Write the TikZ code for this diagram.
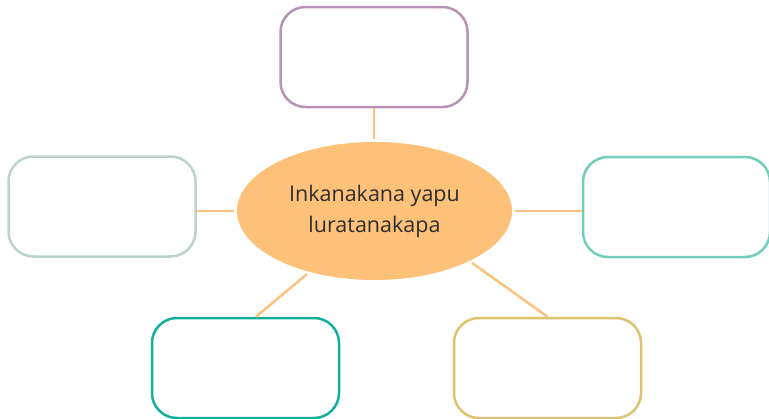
\documentclass[tikz,border=0pt]{standalone}
\usepackage{fontspec}
\setmainfont{Open Sans}
\usetikzlibrary{shapes.geometric}
\definecolor{hubfill}{HTML}{FDC17A}
\definecolor{linkcol}{HTML}{FDC27E}
\definecolor{textcol}{HTML}{2E2E2E}
\definecolor{purplebox}{HTML}{B794B4}
\definecolor{sagebox}{HTML}{BCD3C8}
\definecolor{mintbox}{HTML}{72CDBA}
\definecolor{tealbox}{HTML}{14AE9C}
\definecolor{goldbox}{HTML}{DDC36E}

\begin{document}
\begin{tikzpicture}[x=1pt, y=-1pt,
  card/.style={draw, line width=2.5pt, rounded corners=25pt, minimum width=187pt, minimum height=100pt, inner sep=0pt},
  link/.style={draw=linkcol, line width=2.5pt}]
  \useasboundingbox (0,0) rectangle (769,418);
  % centre of the web
  \node[ellipse, fill=hubfill, minimum width=275pt, minimum height=138pt, inner sep=0pt, outer sep=3pt,
        text=textcol, align=center, font=\fontsize{21.5}{31}\selectfont] (hub) at (374.5,211)
        {Inkanakana yapu\\luratanakapa};
  % empty boxes round it
  \node[card, draw=purplebox] (topbox) at (374,57) {};
  \node[card, draw=sagebox] (leftbox) at (102,206.5) {};
  \node[card, draw=mintbox] (rightbox) at (676.5,207) {};
  \node[card, draw=tealbox] (lowleft) at (245.5,368) {};
  \node[card, draw=goldbox] (lowright) at (547.5,368) {};
  % links
  \draw[link] (topbox.south) -- (topbox.south |- hub.north);
  \draw[link] (hub.west) -- (hub.west -| leftbox.east);
  \draw[link] (hub.east) -- (hub.east -| rightbox.west);
  \draw[link] (hub.223) -- ([xshift=10.5pt]lowleft.north);
  \draw[link] (hub.-28) -- (lowright.north);
\end{tikzpicture}
\end{document}
